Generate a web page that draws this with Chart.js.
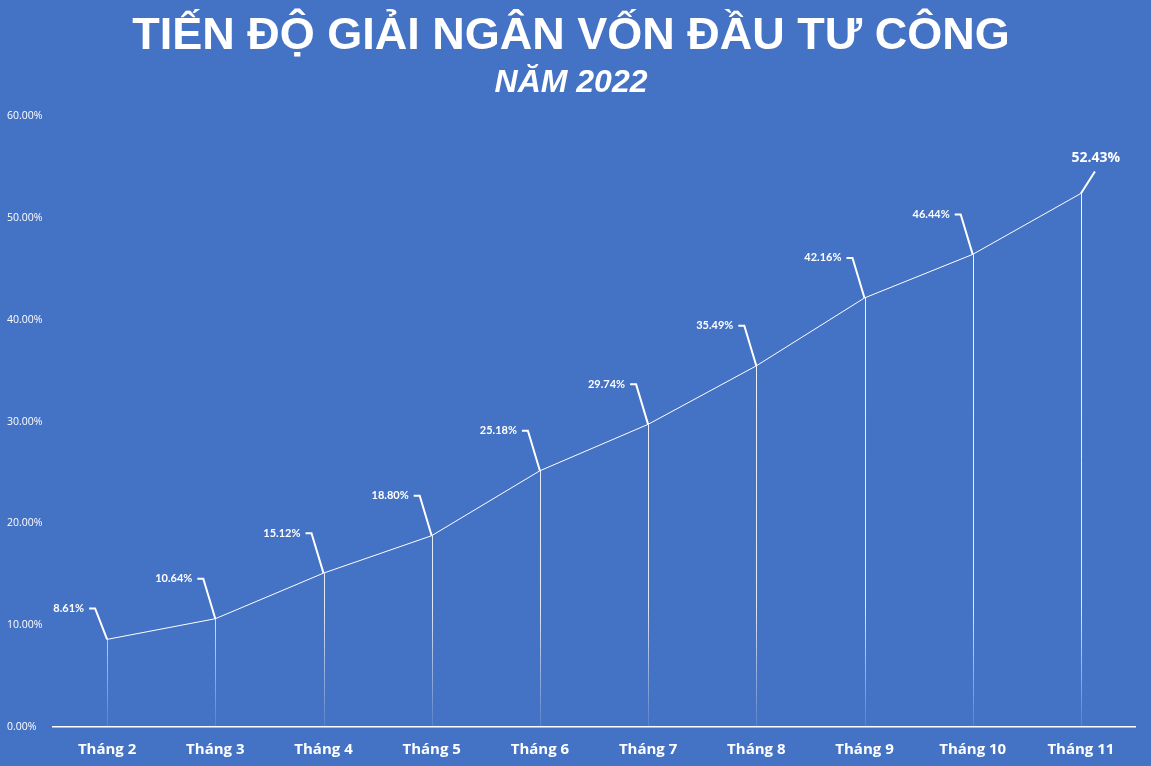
<!DOCTYPE html>
<html>
<head>
<meta charset="utf-8">
<script src="https://cdn.jsdelivr.net/npm/chart.js@4"></script>
<style>
  html, body { margin: 0; padding: 0; background: #4472c4; }
  #wrap { width: 1151px; height: 766px; }
</style>
</head>
<body>
<div id="wrap"><canvas id="disbChart"></canvas></div>
<script>
const months = ["Tháng 2", "Tháng 3", "Tháng 4", "Tháng 5", "Tháng 6",
  "Tháng 7", "Tháng 8", "Tháng 9", "Tháng 10", "Tháng 11"];
const disbursed = [8.61, 10.64, 15.12, 18.8, 25.18, 29.74, 35.49, 42.16, 46.44, 52.43];
const yTicks = [0, 10, 20, 30, 40, 50, 60];

const pct = (v) => v.toFixed(2) + "%";

// vertical drop lines from each point to the axis, fading out at the bottom
const dropLines = {
  id: "dropLines",
  beforeDatasetsDraw(chart) {
    const { ctx, chartArea } = chart;
    const y0 = chart.scales.y.getPixelForValue(0);
    const grad = ctx.createLinearGradient(0, chartArea.top, 0, y0);
    grad.addColorStop(0, "rgba(255,255,255,0.95)");
    grad.addColorStop(0.8, "rgba(255,255,255,0.85)");
    grad.addColorStop(1, "rgba(255,255,255,0.1)");
    ctx.save();
    ctx.strokeStyle = grad;
    ctx.lineWidth = 1;
    chart.getDatasetMeta(0).data.forEach((p) => {
      ctx.beginPath();
      ctx.moveTo(Math.round(p.x) + 0.5, p.y);
      ctx.lineTo(Math.round(p.x) + 0.5, y0);
      ctx.stroke();
    });
    ctx.restore();
  },
};

// data labels with leader lines
const leaderLabels = {
  id: "leaderLabels",
  afterDatasetsDraw(chart) {
    const { ctx } = chart;
    const pts = chart.getDatasetMeta(0).data;
    ctx.save();
    ctx.strokeStyle = "#ffffff";
    ctx.fillStyle = "#ffffff";
    ctx.lineWidth = 2;
    pts.forEach((p, i) => {
      const last = i == pts.length - 1;
      ctx.beginPath();
      if (last) {
        ctx.moveTo(p.x, p.y);
        ctx.lineTo(p.x + 14, p.y - 22);
        ctx.stroke();
        ctx.font = "bold 14px 'Open Sans', Lato, sans-serif";
        ctx.textAlign = "center";
        ctx.textBaseline = "middle";
        ctx.fillText(pct(disbursed[i]), p.x + 15, p.y - 35);
      } else {
        const dy = i == 0 ? 31 : 40;
        ctx.moveTo(p.x, p.y);
        ctx.lineTo(p.x - 12, p.y - dy);
        ctx.lineTo(p.x - 18, p.y - dy);
        ctx.stroke();
        ctx.font = "bold 11px Lato, 'Open Sans', sans-serif";
        ctx.textAlign = "right";
        ctx.textBaseline = "middle";
        ctx.fillText(pct(disbursed[i]), p.x - 23, p.y - dy);
      }
    });
    ctx.restore();
  },
};

const bg = {
  id: "bg",
  beforeDraw(chart) {
    const { ctx, width, height } = chart;
    ctx.save();
    ctx.fillStyle = "#4472c4";
    ctx.fillRect(0, 0, width, height);
    ctx.restore();
  },
};

new Chart(document.getElementById("disbChart"), {
  type: "line",
  data: {
    labels: months,
    datasets: [
      {
        data: disbursed,
        borderColor: "#ffffff",
        borderWidth: 1,
        pointRadius: 0,
        tension: 0,
      },
    ],
  },
  options: {
    responsive: true,
    maintainAspectRatio: false,
    animation: false,
    layout: { padding: { left: 7, right: 16, top: 0, bottom: 0 } },
    scales: {
      x: {
        offset: true,
        grid: { display: false, drawTicks: false },
        border: { color: "#ffffff", width: 1.5 },
        ticks: {
          color: "#ffffff",
          padding: 14,
          font: { family: "'Open Sans', sans-serif", size: 15, weight: "bold" },
        },
        afterFit: (s) => { s.height = 39; },
      },
      y: {
        min: 0,
        max: 60,
        afterBuildTicks: (s) => { s.ticks = yTicks.map((v) => ({ value: v })); },
        grid: { display: false, drawTicks: false },
        border: { display: false },
        ticks: {
          color: "#ffffff",
          crossAlign: "far",
          padding: 8,
          font: { family: "'Open Sans', sans-serif", size: 10.5 },
          callback: (v) => pct(v),
        },
        afterFit: (s) => { s.width = 46; },
      },
    },
    plugins: {
      legend: { display: false },
      tooltip: { enabled: false },
      title: {
        display: true,
        text: "TIẾN ĐỘ GIẢI NGÂN VỐN ĐẦU TƯ CÔNG",
        color: "#ffffff",
        font: { family: "'Liberation Sans Narrow', 'Arial Narrow', sans-serif", size: 45, weight: "bold" },
        padding: { top: 10, bottom: 0 },
      },
      subtitle: {
        display: true,
        text: "NĂM 2022",
        color: "#ffffff",
        font: { family: "'Liberation Sans Narrow', 'Arial Narrow', sans-serif", size: 32, weight: "bold", style: "italic" },
        padding: { top: 0, bottom: 14 },
      },
    },
  },
  plugins: [bg, dropLines, leaderLabels],
});
</script>
</body>
</html>
